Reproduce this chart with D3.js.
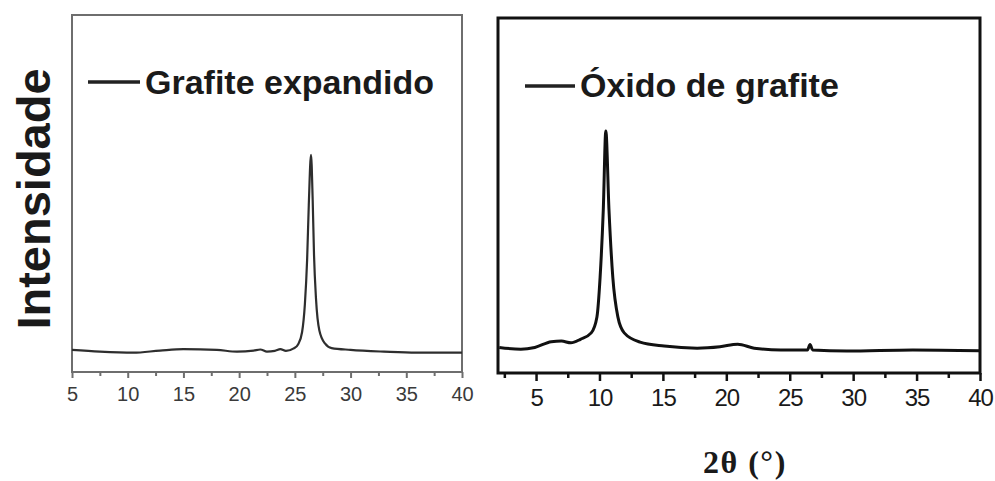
<!DOCTYPE html>
<html>
<head>
<meta charset="utf-8">
<script src="https://cdn.jsdelivr.net/npm/d3@7"></script>
<style>
  html, body { margin: 0; padding: 0; background: #fff; }
  svg { display: block; }
</style>
</head>
<body>
<svg id="chart" width="995" height="481"></svg>
<script>
// XRD patterns: 2θ (degrees) and intensity (a.u.)
const egTheta = [5.0, 7.5, 10.5, 12.9, 15.0, 18.0, 19.8, 21.3, 21.9, 22.5, 23.2, 23.7, 24.2, 24.9, 25.3, 25.65, 25.9, 26.1, 26.25, 26.45, 26.6, 26.72, 26.9, 27.2, 27.7, 28.3, 30.0, 33.0, 35.9, 40.0];
const egIntensity = [62, 57, 54, 60, 64, 62, 57, 60, 63, 57, 59, 64, 59, 66, 78, 112, 190, 314, 468, 608, 482, 328, 204, 116, 80, 67, 62, 57, 54, 54];

const goTheta = [2.1, 3.8, 4.9, 6.2, 7.0, 7.75, 8.5, 9.35, 9.8, 10.05, 10.3, 10.5, 10.75, 11.05, 11.45, 11.95, 13.2, 15.1, 17.7, 19.5, 20.9, 22.2, 24.3, 26.4, 26.6, 26.8, 29.5, 34.7, 40.0];
const goIntensity = [72, 67, 72, 88, 90, 85, 95, 113, 158, 270, 459, 682, 459, 270, 158, 113, 87, 76, 70, 74, 81, 70, 65, 65, 80, 65, 62, 65, 63];

const egTicks = [5, 10, 15, 20, 25, 30, 35, 40];
const egMinor = [7.5, 12.5, 17.5, 22.5, 27.5, 32.5, 37.5];
const goTicks = [5, 10, 15, 20, 25, 30, 35, 40];
const goMinor = [2.5, 7.5, 12.5, 17.5, 22.5, 27.5, 32.5, 37.5];

const egLabel = "Grafite expandido";
const goLabel = "Óxido de grafite";
const yTitle = "Intensidade";
const xTitle = "2θ (°)";

const svg = d3.select("#chart");

function panel(cfg) {
  const x = d3.scaleLinear().domain(cfg.xDomain).range([cfg.left, cfg.right]);
  const y = d3.scaleLinear().domain([0, 1000]).range([cfg.bottom, cfg.top]);
  const g = svg.append("g");

  // minor ticks
  g.append("g")
    .attr("transform", `translate(0,${cfg.bottom})`)
    .call(d3.axisBottom(x).tickValues(cfg.minor).tickSize(cfg.minorLen).tickFormat(""))
    .call(a => a.select(".domain").remove())
    .call(a => a.selectAll("line").attr("stroke", cfg.frameColor).attr("stroke-width", cfg.tickWidth));

  // major ticks + labels
  const ax = g.append("g")
    .attr("transform", `translate(0,${cfg.bottom})`)
    .call(d3.axisBottom(x).tickValues(cfg.ticks).tickSize(cfg.majorLen).tickPadding(cfg.pad).tickFormat(d3.format("d")))
    .call(a => a.select(".domain").remove());
  ax.selectAll("line").attr("stroke", cfg.frameColor).attr("stroke-width", cfg.tickWidth);
  ax.selectAll("text")
    .attr("fill", cfg.labelColor)
    .attr("font-family", "'Liberation Sans', Arial, sans-serif")
    .attr("font-size", cfg.labelSize)
    .attr("letter-spacing", cfg.labelSpacing)
    .attr("dy", null)
    .attr("y", cfg.labelBaseline - cfg.bottom);

  // plot frame
  g.append("rect")
    .attr("x", cfg.left).attr("y", cfg.top)
    .attr("width", cfg.right - cfg.left).attr("height", cfg.bottom - cfg.top)
    .attr("fill", "none").attr("stroke", cfg.frameColor).attr("stroke-width", cfg.frameWidth);

  // pattern
  const pts = cfg.theta.map((t, i) => [t, cfg.intensity[i]]);
  g.append("path")
    .datum(pts)
    .attr("fill", "none")
    .attr("stroke", cfg.lineColor)
    .attr("stroke-width", cfg.lineWidth)
    .attr("stroke-linejoin", "round")
    .attr("d", d3.line().x(d => x(d[0])).y(d => y(d[1])).curve(d3.curveMonotoneX));

  // legend
  g.append("line")
    .attr("x1", cfg.legX1).attr("x2", cfg.legX2)
    .attr("y1", cfg.legY).attr("y2", cfg.legY)
    .attr("stroke", "#222").attr("stroke-width", 3.5);
  g.append("text")
    .attr("x", cfg.legX2 + 5).attr("y", cfg.legBase)
    .attr("font-family", "'Liberation Sans', Arial, sans-serif")
    .attr("font-weight", "bold")
    .attr("font-size", 34)
    .attr("fill", "#1a1a1a")
    .text(cfg.label);
}

panel({
  xDomain: [5, 40], left: 72, right: 462, top: 15, bottom: 372,
  ticks: egTicks, minor: egMinor, majorLen: 6, minorLen: 4, pad: 6, tickWidth: 2,
  labelSize: 20, labelSpacing: 0, labelColor: "#3a3a3a", labelBaseline: 401,
  frameColor: "#6e6e6e", frameWidth: 2,
  theta: egTheta, intensity: egIntensity, lineColor: "#2e2e2e", lineWidth: 2.2,
  legX1: 88, legX2: 140, legY: 82, legBase: 94, label: egLabel
});

panel({
  xDomain: [2, 40], left: 498, right: 980, top: 18, bottom: 373,
  ticks: goTicks, minor: goMinor, majorLen: 8, minorLen: 5, pad: 6, tickWidth: 2.5,
  labelSize: 24, labelSpacing: -1, labelColor: "#1a1a1a", labelBaseline: 406,
  frameColor: "#111", frameWidth: 3,
  theta: goTheta, intensity: goIntensity, lineColor: "#111", lineWidth: 3,
  legX1: 525, legX2: 575, legY: 86, legBase: 97, label: goLabel
});

// shared axis titles
svg.append("text")
  .attr("transform", "translate(50,199) rotate(-90)")
  .attr("text-anchor", "middle")
  .attr("font-family", "'Liberation Sans', Arial, sans-serif")
  .attr("font-weight", "bold")
  .attr("font-size", 47)
  .attr("fill", "#1a1a1a")
  .text(yTitle);

svg.append("text")
  .attr("x", 703).attr("y", 473)
  .attr("font-family", "'Liberation Serif', 'Times New Roman', serif")
  .attr("font-weight", "bold")
  .attr("font-size", 32)
  .attr("letter-spacing", 1.5)
  .attr("fill", "#1a1a1a")
  .text(xTitle);
</script>
</body>
</html>
